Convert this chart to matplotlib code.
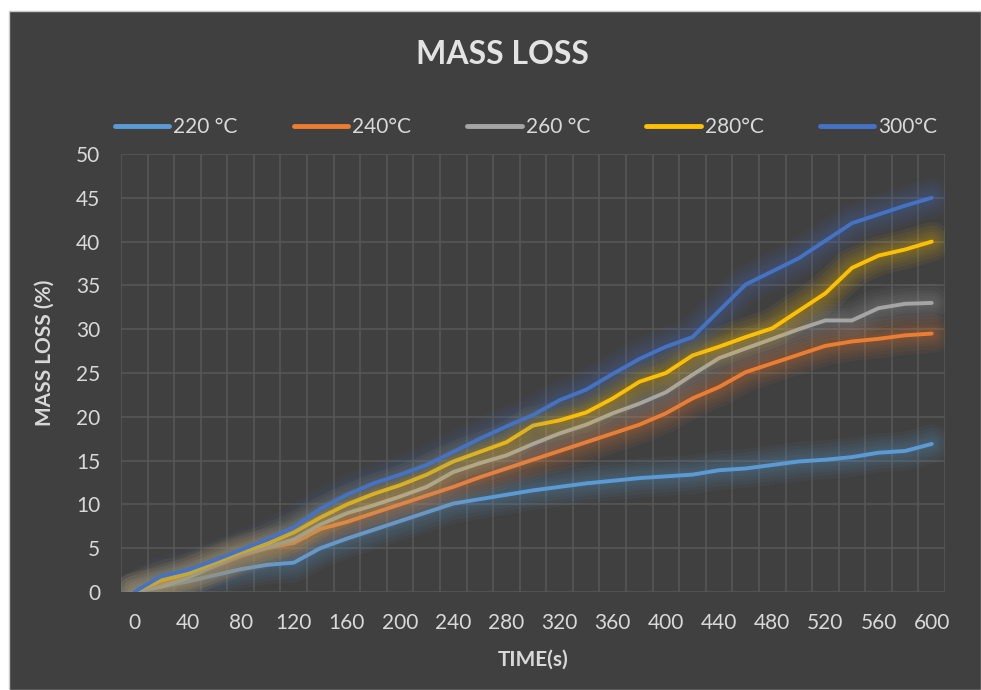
import matplotlib
matplotlib.use('Agg')
import numpy as np
import matplotlib.pyplot as plt
import matplotlib.patheffects as pe
from matplotlib.patches import Rectangle

plt.rcParams['font.family'] = ['Lato', 'DejaVu Sans']

# 时间点 (s)，每 20 s 一个
time_s = list(range(0, 620, 20))

loss_220 = [0, 0.6, 1.2, 1.9, 2.6, 3.1, 3.35, 5.0, 6.1, 7.1, 8.1, 9.1, 10.1, 10.6, 11.1, 11.6,
            12.0, 12.4, 12.7, 13.0, 13.2, 13.4, 13.9, 14.1, 14.5, 14.9, 15.1, 15.4, 15.9, 16.1, 16.9]
loss_240 = [0, 0.8, 1.8, 2.9, 4.1, 5.0, 5.6, 7.2, 8.0, 9.0, 10.0, 11.0, 12.0, 13.1, 14.1, 15.1,
            16.1, 17.1, 18.1, 19.1, 20.4, 22.1, 23.4, 25.1, 26.1, 27.1, 28.1, 28.6, 28.9, 29.3, 29.5]
loss_260 = [0, 0.6, 1.6, 3.0, 4.3, 5.1, 6.0, 7.7, 9.0, 9.9, 10.9, 12.0, 13.7, 14.7, 15.6, 16.9,
            18.1, 19.1, 20.4, 21.5, 22.8, 24.8, 26.7, 27.8, 28.9, 30.0, 31.0, 31.0, 32.4, 32.9, 33.0]
loss_280 = [0, 1.3, 2.1, 3.3, 4.5, 5.5, 6.8, 8.5, 10.0, 11.2, 12.2, 13.4, 14.9, 16.0, 17.1, 19.0,
            19.6, 20.5, 22.1, 24.0, 25.0, 27.0, 28.0, 29.1, 30.1, 32.1, 34.1, 37.0, 38.4, 39.1, 40.0]
loss_300 = [0, 1.8, 2.5, 3.6, 4.8, 6.0, 7.4, 9.5, 11.1, 12.4, 13.4, 14.5, 16.0, 17.5, 18.9, 20.2,
            21.9, 23.1, 24.9, 26.6, 28.0, 29.1, 32.1, 35.1, 36.6, 38.1, 40.1, 42.1, 43.1, 44.1, 45.0]

labels = ['220 °C', '240°C', '260 °C', '280°C', '300°C']
colors = ['#5B9BD5', '#ED7D31', '#A5A5A5', '#FFC000', '#4472C4']
series = [loss_220, loss_240, loss_260, loss_280, loss_300]

bg = '#404040'
grid_c = '#585858'
txt_c = '#d9d9d9'

fig = plt.figure(figsize=(9.81, 6.90), dpi=100)
fig.patch.set_facecolor('white')
# 深色图表区（放在最底层）
fig.patches.append(Rectangle((9 / 981, 0), 1 - 9 / 981, 1 - 10.7 / 690, transform=fig.transFigure,
                             facecolor=bg, edgecolor='#c8c8c8', lw=1.0, zorder=-5))

ax = fig.add_axes([121 / 981, 98 / 690, 824 / 981, 438 / 690])
ax.set_facecolor(bg)
for s in ax.spines.values():
    s.set_visible(False)

x = np.arange(len(time_s))
ax.set_xlim(-0.5, len(time_s) - 0.5)
ax.set_ylim(0, 50)

# 网格：每个类别边界一条竖线，每 5% 一条横线
for xv in np.arange(-0.5, len(time_s), 1.0):
    ax.axvline(xv, color=grid_c, lw=1.1, zorder=1)
for yv in range(0, 55, 5):
    ax.axhline(yv, color=grid_c, lw=1.1, zorder=1)

# 外发光效果
def glow(color):
    effects = []
    for w in [28, 23, 18, 14, 10, 6]:
        effects.append(pe.Stroke(linewidth=w, foreground=color, alpha=0.06))
    effects.append(pe.Normal())
    return effects

for vals, c, lab in zip(series, colors, labels):
    ax.plot(x, vals, color=c, lw=2.8, label=lab, zorder=3,
            solid_capstyle='round', solid_joinstyle='round',
            path_effects=glow(c))

ax.set_xticks(x[::2])
ax.set_xticklabels([str(t) for t in time_s[::2]])
ax.set_yticks(range(0, 55, 5))
ax.tick_params(axis='both', length=0, labelsize=15, colors=txt_c)
ax.tick_params(axis='x', pad=15)
ax.tick_params(axis='y', pad=15)

fig.text(502 / 981, 1 - 55 / 690, 'MASS LOSS', ha='center', va='center',
         fontsize=23, fontweight='bold', color='#e3e3e3')
fig.text(533 / 981, 1 - 660 / 690, 'TIME(s)', ha='center', va='center',
         fontsize=15, fontweight='bold', color=txt_c)
fig.text(45 / 981, 1 - 353 / 690, 'MASS LOSS (%)', ha='center', va='center', rotation=90,
         fontsize=15, fontweight='bold', color=txt_c)

handles = [plt.Line2D([], [], color=c, lw=3.5, solid_capstyle='round') for c in colors]
leg = fig.legend(handles, labels, loc='center', bbox_to_anchor=(526 / 981, 1 - 127 / 690),
                 ncol=5, frameon=False, fontsize=15, handlelength=2.6, handletextpad=0.2,
                 columnspacing=2.7, labelcolor=txt_c)

fig.savefig('out.png', dpi=100, facecolor=fig.get_facecolor())
